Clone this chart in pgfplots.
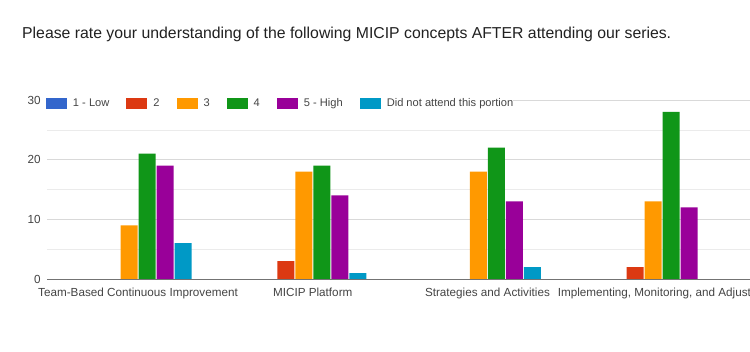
\documentclass[border=0pt]{standalone}
\usepackage{fontspec}
\setmainfont{Liberation Sans}
\usepackage{pgfplots}
\pgfplotsset{compat=1.18}
\definecolor{cA}{HTML}{3366CC}
\definecolor{cB}{HTML}{DC3912}
\definecolor{cC}{HTML}{FF9900}
\definecolor{cD}{HTML}{109618}
\definecolor{cE}{HTML}{990099}
\definecolor{cF}{HTML}{0099C6}
\definecolor{titlec}{HTML}{212121}
\definecolor{labc}{HTML}{444444}
\pgfplotsset{myleg/.style={legend image code/.code={\fill[##1] (0pt,-5.5pt) rectangle (21pt,5.5pt);}}}
\begin{document}
\begin{tikzpicture}[x=1pt,y=1pt]
\useasboundingbox (0,0) rectangle (750,352);
\clip (0,0) rectangle (750,352);
\fill[white] (0,0) rectangle (750,352);
\node[anchor=west, text=titlec, font=\fontsize{15.8}{18}\selectfont, inner sep=0pt] at (22,318) {Please rate your understanding of the following MICIP concepts AFTER attending our series.};
\begin{axis}[
  at={(47.2pt,73pt)}, anchor=south west,
  scale only axis, width=705.8pt, height=179pt,
  xmin=0.48, xmax=4.52, ymin=0, ymax=30,
  ybar, bar width=17pt,
  xtick={1,2,3,4},
  xticklabels={Team-Based Continuous Improvement, MICIP Platform, Strategies and Activities, {Implementing, Monitoring, and Adjusting}},
  ytick={0,10,20,30}, minor ytick={5,15,25},
  ymajorgrids, yminorgrids,
  major grid style={color=black!15},
  minor grid style={color=black!8},
  axis x line*=bottom, axis y line*=left,
  y axis line style={draw=none},
  x axis line style={color=black!55, line width=0.8pt},
  major tick length=0pt, minor tick length=0pt,
  /pgf/number format/assume math mode=true,
  tick label style={font=\fontsize{11.7}{14}\selectfont, text=labc},
  yticklabel style={xshift=-3pt},
  xticklabel style={yshift=-5pt},
  legend columns=6,
  legend style={at={(axis description cs:-0.002,0.983)}, anchor=west, draw=none, fill=white,
    font=\fontsize{11.1}{13}\selectfont, text=labc, inner xsep=0pt, inner ysep=1pt,
    nodes={inner xsep=0pt},
    /tikz/every odd column/.append style={column sep=6pt},
    /tikz/every even column/.append style={column sep=17pt}},
]
\addlegendimage{myleg, fill=cA, draw=none}
\addlegendentry{1 - Low}
\addplot[myleg, fill=cB, draw=none, bar shift=-27pt] coordinates {(2,3) (4,2)};
\addlegendentry{2}
\addplot[myleg, fill=cC, draw=none, bar shift=-9pt] coordinates {(1,9) (2,18) (3,18) (4,13)};
\addlegendentry{3}
\addplot[myleg, fill=cD, draw=none, bar shift=9pt] coordinates {(1,21) (2,19) (3,22) (4,28)};
\addlegendentry{4}
\addplot[myleg, fill=cE, draw=none, bar shift=27pt] coordinates {(1,19) (2,14) (3,13) (4,12)};
\addlegendentry{5 - High}
\addplot[myleg, fill=cF, draw=none, bar shift=45pt] coordinates {(1,6) (2,1) (3,2)};
\addlegendentry{Did not attend this portion}
\end{axis}
\end{tikzpicture}
\end{document}
